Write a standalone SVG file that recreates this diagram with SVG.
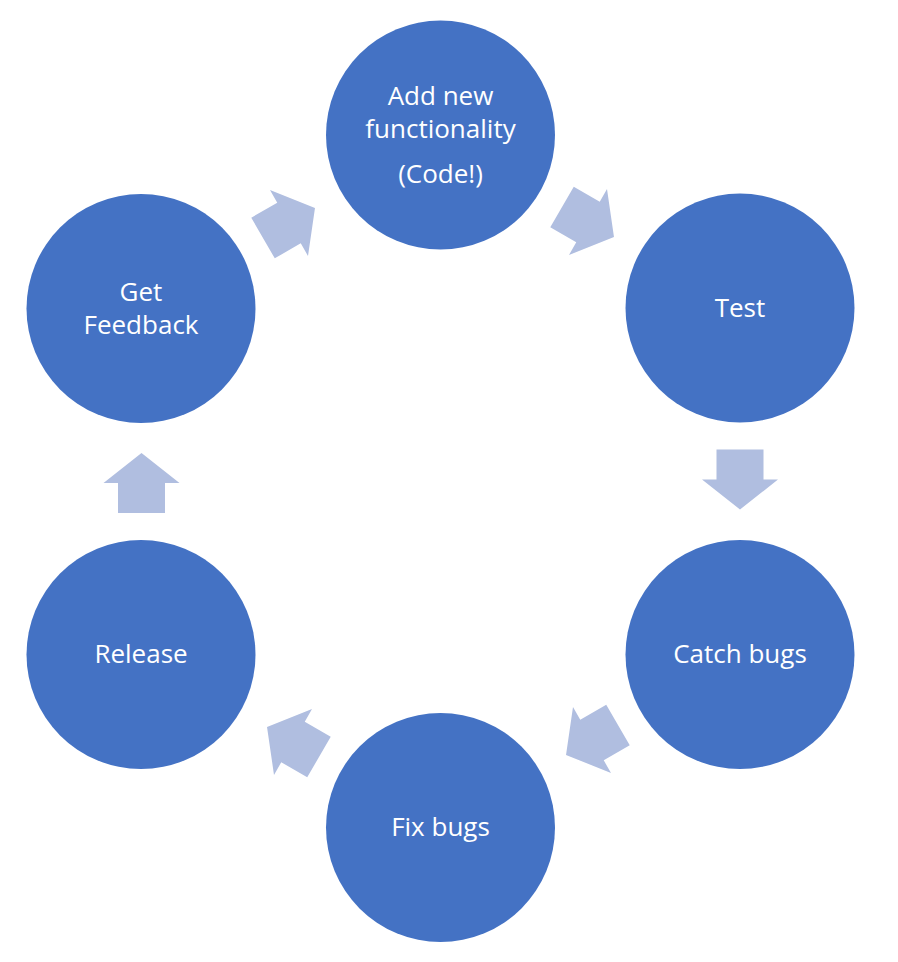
<svg xmlns="http://www.w3.org/2000/svg" width="898" height="962" viewBox="0 0 898 962">
<style>
.node{fill:#4472C4}
.lbl{fill:#FFFFFF;font-family:"Open Sans","Noto Sans","Liberation Sans",sans-serif;font-size:26px;text-anchor:middle}
.arr{fill:#B0BEE0}
</style>
<defs>
<path id="arrow" d="M0,-30 L38,0 L23.5,0 L23.5,30 L-23.5,30 L-23.5,0 L-38,0 Z"/>
</defs>
<rect width="898" height="962" fill="#FFFFFF"/>
<g id="connectors">
<use href="#arrow" class="arr" transform="translate(289,223) rotate(60)"/>
<use href="#arrow" class="arr" transform="translate(588,222) rotate(120)"/>
<use href="#arrow" class="arr" transform="translate(740,479.5) rotate(180)"/>
<use href="#arrow" class="arr" transform="translate(592,740) rotate(240)"/>
<use href="#arrow" class="arr" transform="translate(293,742) rotate(300)"/>
<use href="#arrow" class="arr" transform="translate(141.5,483)"/>
</g>
<g id="node-add">
<circle class="node" cx="440.5" cy="135" r="114.5"/>
<text class="lbl" x="440.5" y="105">Add new</text>
<text class="lbl" x="440.5" y="138">functionality</text>
<text class="lbl" x="440.5" y="183">(Code!)</text>
</g>
<g id="node-test">
<circle class="node" cx="740" cy="308" r="114.5"/>
<text class="lbl" x="740" y="317">Test</text>
</g>
<g id="node-catch">
<circle class="node" cx="740" cy="654.5" r="114.5"/>
<text class="lbl" x="740" y="663">Catch bugs</text>
</g>
<g id="node-fix">
<circle class="node" cx="440.5" cy="827.5" r="114.5"/>
<text class="lbl" x="440.5" y="836">Fix bugs</text>
</g>
<g id="node-release">
<circle class="node" cx="141" cy="654.5" r="114.5"/>
<text class="lbl" x="141" y="663">Release</text>
</g>
<g id="node-feedback">
<circle class="node" cx="141" cy="308.5" r="114.5"/>
<text class="lbl" x="141" y="301">Get</text>
<text class="lbl" x="141" y="334">Feedback</text>
</g>
</svg>
